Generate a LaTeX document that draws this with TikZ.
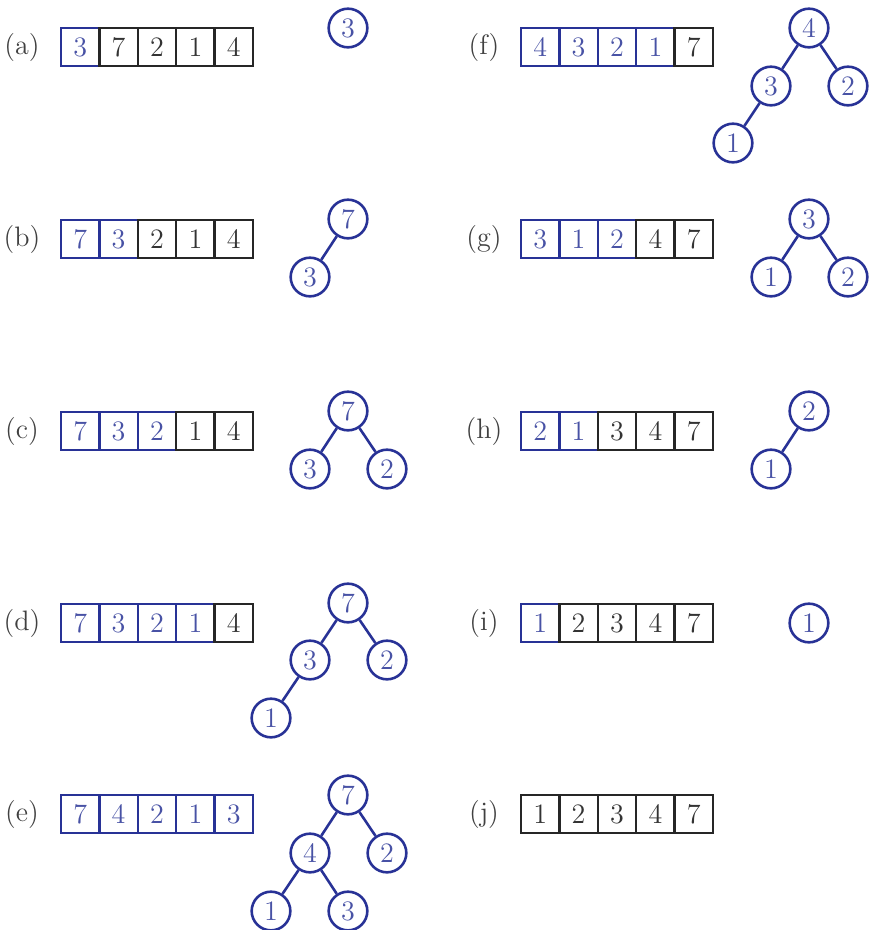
\documentclass[tikz,border=0pt]{standalone}
\usepackage{xcolor,tikz}
\definecolor{hblue}{RGB}{40,50,150}
\definecolor{tblue}{RGB}{72,82,165}
\tikzset{cell/.style={draw=black!85,line width=1pt,minimum size=.576cm,inner sep=0pt,text=black!80},
 bcell/.style={cell,draw=hblue,text=tblue},
 vtx/.style={circle,draw=hblue,line width=1.1pt,minimum size=.58cm,inner sep=0pt,text=tblue},
 edge/.style={draw=hblue,line width=1.1pt},
 lbl/.style={text=black!75}}
% name, x of first cell, y, blue cells, values
\newcommand{\heaparr}[5]{\foreach \v [count=\i] in {#5}{%
 \ifnum\i>#4 \def\st{cell}\else\def\st{bcell}\fi
 \node[\st] (#1\i) at ({#2+38.4*(\i-1)},#3) {\v};}}

\begin{document}
\begin{tikzpicture}[x=.015cm,y=-.015cm,font=\large]
\useasboundingbox (0,0) rectangle (872,930);
% left column
\node[lbl] (la) at (22,47) {(a)};\node[lbl] (lb) at (22,239) {(b)};
\node[lbl] (lc) at (22,431) {(c)};\node[lbl] (ld) at (22,623) {(d)};
\node[lbl] (le) at (22,814) {(e)};
\heaparr{a}{80.2}{47}{1}{3,7,2,1,4}
\heaparr{b}{80.2}{239}{2}{7,3,2,1,4}
\heaparr{c}{80.2}{431}{3}{7,3,2,1,4}
\heaparr{d}{80.2}{623}{4}{7,3,2,1,4}
\heaparr{e}{80.2}{814}{5}{7,4,2,1,3}
% right column
\node[lbl] (lf) at (484,47) {(f)};\node[lbl] (lg) at (484,239) {(g)};
\node[lbl] (lh) at (484,431) {(h)};\node[lbl] (li) at (484,623) {(i)};
\node[lbl] (lj) at (484,814) {(j)};
\heaparr{f}{540.2}{47}{4}{4,3,2,1,7}
\heaparr{g}{540.2}{239}{3}{3,1,2,4,7}
\heaparr{h}{540.2}{431}{2}{2,1,3,4,7}
\heaparr{i}{540.2}{623}{1}{1,2,3,4,7}
\heaparr{j}{540.2}{814}{0}{1,2,3,4,7}
% trees
\node[vtx] (ta1) at (348,28) {3};
\node[vtx] (tb1) at (348,219) {7};\node[vtx] (tb2) at (310,277) {3};
\draw[edge] (tb1)--(tb2);
\node[vtx] (tc1) at (348,411) {7};\node[vtx] (tc2) at (310,469) {3};
\node[vtx] (tc3) at (387,469) {2};
\draw[edge] (tc1)--(tc2) (tc1)--(tc3);
\node[vtx] (td1) at (348,603) {7};\node[vtx] (td2) at (310,660) {3};
\node[vtx] (td3) at (387,660) {2};\node[vtx] (td4) at (271,718) {1};
\draw[edge] (td1)--(td2) (td1)--(td3) (td2)--(td4);
\node[vtx] (te1) at (348,795) {7};\node[vtx] (te2) at (310,853) {4};
\node[vtx] (te3) at (387,853) {2};\node[vtx] (te4) at (271,911) {1};
\node[vtx] (te5) at (348,911) {3};
\draw[edge] (te1)--(te2) (te1)--(te3) (te2)--(te4) (te2)--(te5);
\node[vtx] (tf1) at (809,28) {4};\node[vtx] (tf2) at (771,86) {3};
\node[vtx] (tf3) at (848,86) {2};\node[vtx] (tf4) at (733,143) {1};
\draw[edge] (tf1)--(tf2) (tf1)--(tf3) (tf2)--(tf4);
\node[vtx] (tg1) at (809,219) {3};\node[vtx] (tg2) at (771,277) {1};
\node[vtx] (tg3) at (848,277) {2};
\draw[edge] (tg1)--(tg2) (tg1)--(tg3);
\node[vtx] (th1) at (809,411) {2};\node[vtx] (th2) at (771,469) {1};
\draw[edge] (th1)--(th2);
\node[vtx] (ti1) at (809,623) {1};
\end{tikzpicture}
\end{document}
